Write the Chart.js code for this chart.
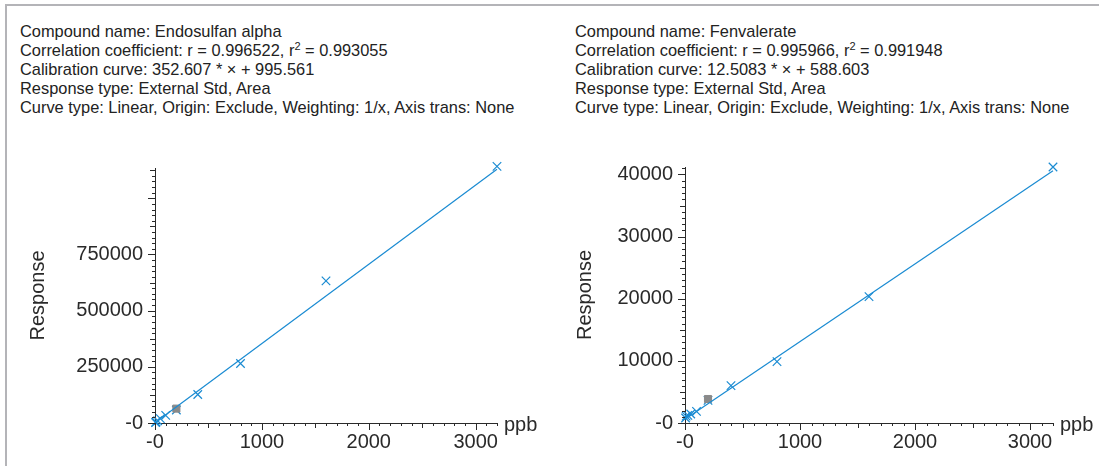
<!DOCTYPE html>
<html>
<head>
<meta charset="utf-8">
<script src="https://cdn.jsdelivr.net/npm/chart.js@4"></script>
<style>
  body { margin: 0; background: #fff; width: 1099px; height: 466px; overflow: hidden; position: relative; font-family: 'Liberation Sans', Arial, sans-serif; }
  .frame { position: absolute; left: 5px; top: 4px; right: 0; bottom: 0; border-left: 2px solid #b4b4b8; border-top: 2px solid #b4b4b8; }
  .info { position: absolute; top: 22px; font-size: 16.4px; line-height: 19px; color: #222; white-space: nowrap; }
  .info sup { font-size: 11px; line-height: 0; }
  canvas { position: absolute; top: 140px; }
</style>
</head>
<body>
<div class="frame"></div>
<div class="info" style="left:20px">
  Compound name: Endosulfan alpha<br>
  Correlation coefficient: r = 0.996522, r<sup>2</sup> = 0.993055<br>
  Calibration curve: 352.607 * × + 995.561<br>
  Response type: External Std, Area<br>
  Curve type: Linear, Origin: Exclude, Weighting: 1/x, Axis trans: None
</div>
<div class="info" style="left:575px">
  Compound name: Fenvalerate<br>
  Correlation coefficient: r = 0.995966, r<sup>2</sup> = 0.991948<br>
  Calibration curve: 12.5083 * × + 588.603<br>
  Response type: External Std, Area<br>
  Curve type: Linear, Origin: Exclude, Weighting: 1/x, Axis trans: None
</div>
<canvas id="endo" width="550" height="326" style="left:0"></canvas>
<canvas id="fenv" width="549" height="326" style="left:550px"></canvas>
<script>
// calibration levels (ppb) and measured responses
const concLevels = [5, 10, 25, 50, 100, 200, 400, 800, 1600, 3200];
const endoResponse = [2000, 4500, 10000, 19600, 34000, 58000, 126800, 265000, 632600, 1142000];
const fenvResponse = [800, 1100, 1220, 1450, 1870, 3640, 6020, 9870, 20340, 41200];

// highlighted (grey square) point
const selConc = [200];
const endoSelResp = [64000];
const fenvSelResp = [3860];

// fit coefficients: slope, intercept
const endoFit = [352.607, 995.561];
const fenvFit = [12.5083, 588.603];

// tick labels
const xTicks = [0, 1000, 2000, 3000];
const endoYTicks = [0, 250000, 500000, 750000];
const fenvYTicks = [0, 10000, 20000, 30000, 40000];

const blue = '#1a8bd2';
const ink = '#2a2a2a';
const font = 'Liberation Sans, Arial, sans-serif';

const pts = (xs, ys) => xs.map((x, i) => ({x: x, y: ys[i]}));
const tickLabel = v => v === 0 ? '-0' : String(v);

// minor/major tick marks + "ppb" label
const tickMarks = {
  id: 'tickMarks',
  afterDraw(chart, args, o) {
    const ctx = chart.ctx;
    const xs = chart.scales.x, ys = chart.scales.y;
    const a = chart.chartArea;
    ctx.save();
    ctx.strokeStyle = ink;
    ctx.lineWidth = 1;
    ctx.beginPath();
    for (let v = 0; v <= xs.max + 1e-6; v += o.xStep) {
      const px = Math.round(xs.getPixelForValue(v)) + 0.5;
      const len = v % o.xMajor === 0 ? 7 : v % (o.xMajor / 2) === 0 ? 5 : 3;
      ctx.moveTo(px, a.bottom);
      ctx.lineTo(px, a.bottom + len);
    }
    for (let v = 0; v <= ys.max + 1e-6; v += o.yStep) {
      const py = Math.round(ys.getPixelForValue(v)) + 0.5;
      const len = v % o.yMajor === 0 ? 7 : v % (o.yMajor / 2) === 0 ? 5 : 3;
      ctx.moveTo(a.left, py);
      ctx.lineTo(a.left - len, py);
    }
    ctx.stroke();
    ctx.fillStyle = ink;
    ctx.font = '20px ' + font;
    ctx.textBaseline = 'middle';
    ctx.fillText('ppb', a.right + 7, a.bottom + 2);
    ctx.restore();
  }
};

function makeChart(id, resp, selResp, fit, yTicks, yMax, opts) {
  const lineEnd = concLevels[concLevels.length - 1];
  return new Chart(document.getElementById(id), {
    type: 'scatter',
    data: {
      datasets: [
        {
          data: [{x: 0, y: fit[1]}, {x: lineEnd, y: fit[0] * lineEnd + fit[1]}],
          showLine: true, borderColor: blue, borderWidth: 1.2, pointRadius: 0, clip: false
        },
        {
          data: pts(selConc, selResp),
          pointStyle: 'rect', pointRadius: 5, backgroundColor: '#8a8a8a', borderColor: '#8a8a8a', borderWidth: 1, clip: false
        },
        {
          data: pts(concLevels, resp),
          pointStyle: 'crossRot', pointRadius: 6, borderColor: blue, borderWidth: 1.2, clip: false
        }
      ]
    },
    options: {
      responsive: false,
      animation: false,
      devicePixelRatio: 1,
      layout: {padding: {left: 0, right: opts.padRight, top: opts.padTop, bottom: 0}},
      plugins: {
        legend: {display: false},
        tooltip: {enabled: false},
        tickMarks: {xStep: 100, xMajor: 1000, yStep: opts.yStep, yMajor: opts.yMajor}
      },
      scales: {
        x: {
          type: 'linear', min: 0, max: 3200,
          grid: {display: false, drawTicks: false},
          border: {display: true, color: ink, width: 1},
          afterBuildTicks: s => { s.ticks = xTicks.map(v => ({value: v})); },
          afterFit: s => { s.height = 43; },
          ticks: {callback: tickLabel, color: ink, font: {size: 20, family: font}, padding: 7, maxRotation: 0, autoSkip: false}
        },
        y: {
          type: 'linear', min: 0, max: yMax,
          grid: {display: false, drawTicks: false},
          border: {display: true, color: ink, width: 1},
          afterBuildTicks: s => { s.ticks = yTicks.map(v => ({value: v})); },
          afterFit: s => { s.width = opts.yWidth; },
          ticks: {callback: tickLabel, color: ink, font: {size: 20, family: font}, padding: 12, autoSkip: false},
          title: {display: true, text: 'Response', color: ink, font: {size: 20, family: font}, padding: {top: opts.titlePad, bottom: 0}}
        }
      }
    },
    plugins: [tickMarks]
  });
}

makeChart('endo', endoResponse, endoSelResp, endoFit, endoYTicks, 1135000,
  {padRight: 53, padTop: 28, yWidth: 155, titlePad: 26, yStep: 25000, yMajor: 250000});
makeChart('fenv', fenvResponse, fenvSelResp, fenvFit, fenvYTicks, 41200,
  {padRight: 46, padTop: 27, yWidth: 135, titlePad: 23, yStep: 1000, yMajor: 10000});
</script>
</body>
</html>
